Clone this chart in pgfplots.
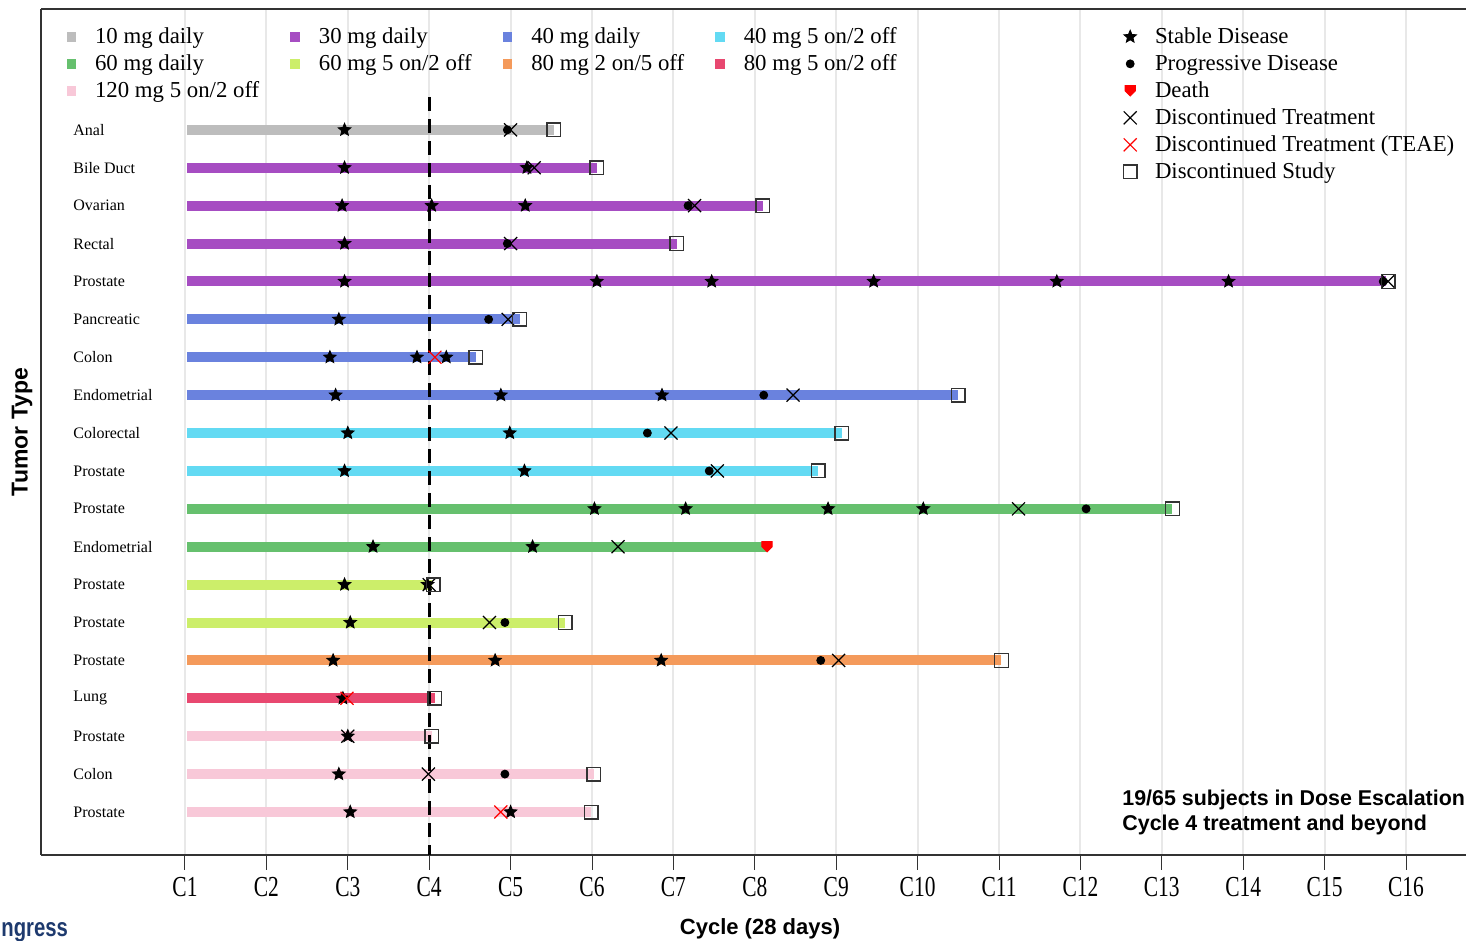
\documentclass[border=0pt]{standalone}
\usepackage{fontspec}
\setmainfont{Liberation Serif}
\setsansfont{Liberation Sans}
\usepackage{graphicx}
\usepackage{pgfplots}
\pgfplotsset{compat=1.18}

\definecolor{cten}{HTML}{BDBDBD}
\definecolor{cthirty}{HTML}{A64DC2}
\definecolor{cforty}{HTML}{6A82DE}
\definecolor{cfortyb}{HTML}{63DAF3}
\definecolor{csixty}{HTML}{66C06E}
\definecolor{csixtyb}{HTML}{CCEE6A}
\definecolor{ceightya}{HTML}{F49A5B}
\definecolor{ceightyb}{HTML}{E84870}
\definecolor{conetwenty}{HTML}{F8C8D8}
\definecolor{logoblue}{HTML}{1E3A6E}

\pgfdeclareplotmark{fstar}{%
  \pgfpathmoveto{\pgfpointpolar{90}{\pgfplotmarksize}}%
  \pgfpathlineto{\pgfpointpolar{126}{0.45\pgfplotmarksize}}%
  \pgfpathlineto{\pgfpointpolar{162}{\pgfplotmarksize}}%
  \pgfpathlineto{\pgfpointpolar{198}{0.45\pgfplotmarksize}}%
  \pgfpathlineto{\pgfpointpolar{234}{\pgfplotmarksize}}%
  \pgfpathlineto{\pgfpointpolar{270}{0.45\pgfplotmarksize}}%
  \pgfpathlineto{\pgfpointpolar{306}{\pgfplotmarksize}}%
  \pgfpathlineto{\pgfpointpolar{342}{0.45\pgfplotmarksize}}%
  \pgfpathlineto{\pgfpointpolar{18}{\pgfplotmarksize}}%
  \pgfpathlineto{\pgfpointpolar{54}{0.45\pgfplotmarksize}}%
  \pgfpathclose\pgfusepathqfillstroke}
\pgfdeclareplotmark{shield}{%
  \pgfpathmoveto{\pgfqpoint{-\pgfplotmarksize}{\pgfplotmarksize}}%
  \pgfpathlineto{\pgfqpoint{\pgfplotmarksize}{\pgfplotmarksize}}%
  \pgfpathlineto{\pgfqpoint{\pgfplotmarksize}{0pt}}%
  \pgfpathlineto{\pgfqpoint{0pt}{-\pgfplotmarksize}}%
  \pgfpathlineto{\pgfqpoint{-\pgfplotmarksize}{0pt}}%
  \pgfpathclose\pgfusepathqfillstroke}

\pgfplotsset{
  commonaxis/.style={
    scale only axis, width=712.5pt, height=423pt,
    xmin=-0.769, xmax=16.737, ymin=-0.1346, ymax=22.19,
  },
  bar/.style={line width=5pt, line cap=butt, forget plot},
  doseimg/.style={only marks, mark=square*, mark size=2.1pt, mark options={draw=#1, fill=#1}},
}

\begin{document}
\begin{tikzpicture}
\begin{axis}[
  commonaxis,
  separate axis lines, axis x line*=box, axis y line*=left,
  axis line style={line width=0.8pt, draw=black!80},
  xtick={1,...,16}, xtick pos=left, xtick align=outside,
  major tick length=7.5pt,
  xtick style={draw=black!80, line width=0.5pt},
  xticklabel={\scalebox{0.74}[1]{C\pgfmathparse{int(\tick)}\pgfmathresult}},
  xticklabel style={font=\fontsize{14.5}{16}\selectfont},
  ytick={1,...,19},
  yticklabels={Prostate,Colon,Prostate,Lung,Prostate,Prostate,Prostate,Endometrial,Prostate,Prostate,Colorectal,Endometrial,Colon,Pancreatic,Prostate,Rectal,Ovarian,Bile Duct,Anal},
  ytick style={draw=none},
  yticklabel style={anchor=west, xshift=16pt, inner sep=0pt, font=\fontsize{8}{9}\selectfont},
  xmajorgrids, grid style={draw=black!9, line width=1pt},
  xlabel={Cycle (28 days)}, ylabel={Tumor Type},
  every axis x label/.style={at={(axis description cs:0.5046,-0.0875)}, anchor=center, font=\sffamily\bfseries\fontsize{11}{13}\selectfont},
  every axis y label/.style={at={(axis description cs:-0.0133,0.5)}, anchor=center, rotate=90, font=\sffamily\bfseries\fontsize{11.5}{13}\selectfont},
  legend columns=4,
  legend cell align=left,
  legend style={draw=none, fill=none, inner sep=0pt,
    at={(axis description cs:0.018,0.9835)}, anchor=north west,
    font=\fontsize{11.4}{13}\selectfont,
    nodes={inner sep=1pt, text height=9pt, text depth=2.5pt},
    row sep=0pt,
    /tikz/every odd column/.append style={column sep=8.8pt},
    /tikz/every even column/.append style={column sep=14.8pt}},
]
\addlegendimage{doseimg=cten}
\addlegendimage{doseimg=cthirty}
\addlegendimage{doseimg=cforty}
\addlegendimage{doseimg=cfortyb}
\addlegendimage{doseimg=csixty}
\addlegendimage{doseimg=csixtyb}
\addlegendimage{doseimg=ceightya}
\addlegendimage{doseimg=ceightyb}
\addlegendimage{doseimg=conetwenty}
\legend{10 mg daily, 30 mg daily, 40 mg daily, 40 mg 5 on/2 off, 60 mg daily, 60 mg 5 on/2 off, 80 mg 2 on/5 off, 80 mg 5 on/2 off, 120 mg 5 on/2 off}

% bars
\addplot[bar, cten] coordinates {(1.03,19) (5.53,19)};
\addplot[bar, cthirty] coordinates {(1.03,18) (6.06,18)};
\addplot[bar, cthirty] coordinates {(1.03,17) (8.10,17)};
\addplot[bar, cthirty] coordinates {(1.03,16) (7.04,16)};
\addplot[bar, cthirty] coordinates {(1.03,15) (15.75,15)};
\addplot[bar, cforty] coordinates {(1.03,14) (5.11,14)};
\addplot[bar, cforty] coordinates {(1.03,13) (4.57,13)};
\addplot[bar, cforty] coordinates {(1.03,12) (10.50,12)};
\addplot[bar, cfortyb] coordinates {(1.03,11) (9.07,11)};
\addplot[bar, cfortyb] coordinates {(1.03,10) (8.78,10)};
\addplot[bar, csixty] coordinates {(1.03,9) (13.13,9)};
\addplot[bar, csixty] coordinates {(1.03,8) (8.14,8)};
\addplot[bar, csixtyb] coordinates {(1.03,7) (4.04,7)};
\addplot[bar, csixtyb] coordinates {(1.03,6) (5.67,6)};
\addplot[bar, ceightya] coordinates {(1.03,5) (11.03,5)};
\addplot[bar, ceightyb] coordinates {(1.03,4) (4.07,4)};
\addplot[bar, conetwenty] coordinates {(1.03,3) (4.03,3)};
\addplot[bar, conetwenty] coordinates {(1.03,2) (6.02,2)};
\addplot[bar, conetwenty] coordinates {(1.03,1) (5.99,1)};

% cycle 4 reference line
\addplot[forget plot, black, line width=1.5pt, dash pattern=on 7pt off 4pt] coordinates {(4,19.87) (4,-0.1346)};

% stable disease
\addplot[forget plot, only marks, mark=fstar, mark size=3.3pt, black] table {
x y
2.96 19
2.96 18
5.20 18
2.93 17
4.03 17
5.18 17
2.96 16
2.96 15
6.06 15
7.47 15
9.46 15
11.71 15
13.82 15
2.89 14
2.78 13
3.85 13
4.21 13
2.85 12
4.88 12
6.86 12
3.00 11
4.99 11
2.96 10
5.17 10
6.03 9
7.15 9
8.90 9
10.07 9
3.31 8
5.27 8
2.96 7
3.98 7
3.03 6
2.82 5
4.81 5
6.85 5
2.94 4
3.00 3
2.89 2
3.03 1
5.00 1
};
% progressive disease
\addplot[forget plot, only marks, mark=*, mark size=2pt, black] table {
x y
4.96 19
7.18 17
4.96 16
15.72 15
4.73 14
8.11 12
6.68 11
7.44 10
12.07 9
4.93 6
8.81 5
4.93 2
};
% discontinued treatment
\addplot[forget plot, only marks, mark=x, mark size=4.6pt, black, line width=0.6pt] table {
x y
5.00 19
5.29 18
7.26 17
5.00 16
15.78 15
4.97 14
8.47 12
6.97 11
7.54 10
11.24 9
6.32 8
4.00 7
4.74 6
9.03 5
3.00 3
3.99 2
};
% discontinued treatment (TEAE)
\addplot[forget plot, only marks, mark=x, mark size=4.6pt, red, line width=0.6pt] table {
x y
4.07 13
2.99 4
4.88 1
};
% death
\addplot[forget plot, only marks, mark=shield, mark size=2.6pt, red, fill=red] table {
x y
8.15 8
};
% discontinued study
\addplot[forget plot, only marks, mark=square, mark size=3.4pt, black!80, line width=0.7pt] table {
x y
5.53 19
6.06 18
8.10 17
7.04 16
15.78 15
5.11 14
4.57 13
10.50 12
9.07 11
8.78 10
13.13 9
4.05 7
5.67 6
11.03 5
4.07 4
4.03 3
6.02 2
5.99 1
};

\node[anchor=west, align=left, inner sep=0pt, font=\sffamily\bfseries\fontsize{10.7}{12.5}\selectfont]
  at (axis description cs:0.7586,0.0502) {19/65 subjects in Dose Escalation\\Cycle 4 treatment and beyond};
\end{axis}

\begin{axis}[
  commonaxis, hide axis,
  legend cell align=left,
  legend style={draw=none, fill=none, inner sep=0pt,
    at={(axis description cs:0.7593,0.9835)}, anchor=north west,
    font=\fontsize{11.4}{13}\selectfont,
    nodes={inner sep=1pt, text height=9pt, text depth=2.5pt},
    row sep=0pt,
    /tikz/every odd column/.append style={column sep=8pt}},
]
\addplot[draw=none, forget plot] coordinates {(0,0)};
\addlegendimage{only marks, mark=fstar, mark size=3.3pt, black}
\addlegendimage{only marks, mark=*, mark size=2pt, black}
\addlegendimage{only marks, mark=shield, mark size=2.6pt, red, fill=red}
\addlegendimage{only marks, mark=x, mark size=4.6pt, black, line width=0.6pt}
\addlegendimage{only marks, mark=x, mark size=4.6pt, red, line width=0.6pt}
\addlegendimage{only marks, mark=square, mark size=3.4pt, black!80, line width=0.7pt}
\legend{Stable Disease, Progressive Disease, Death, Discontinued Treatment, Discontinued Treatment (TEAE), Discontinued Study}
\end{axis}

\node[anchor=base west, inner sep=0pt, text=logoblue, font=\sffamily\bfseries\fontsize{13}{14}\selectfont] at (-20pt,-41pt) {\scalebox{0.78}[1]{ngress}};

\pgfresetboundingbox
\path[use as bounding box] (-20.5pt,-43pt) rectangle (712.5pt,427.5pt);
\end{tikzpicture}
\end{document}
